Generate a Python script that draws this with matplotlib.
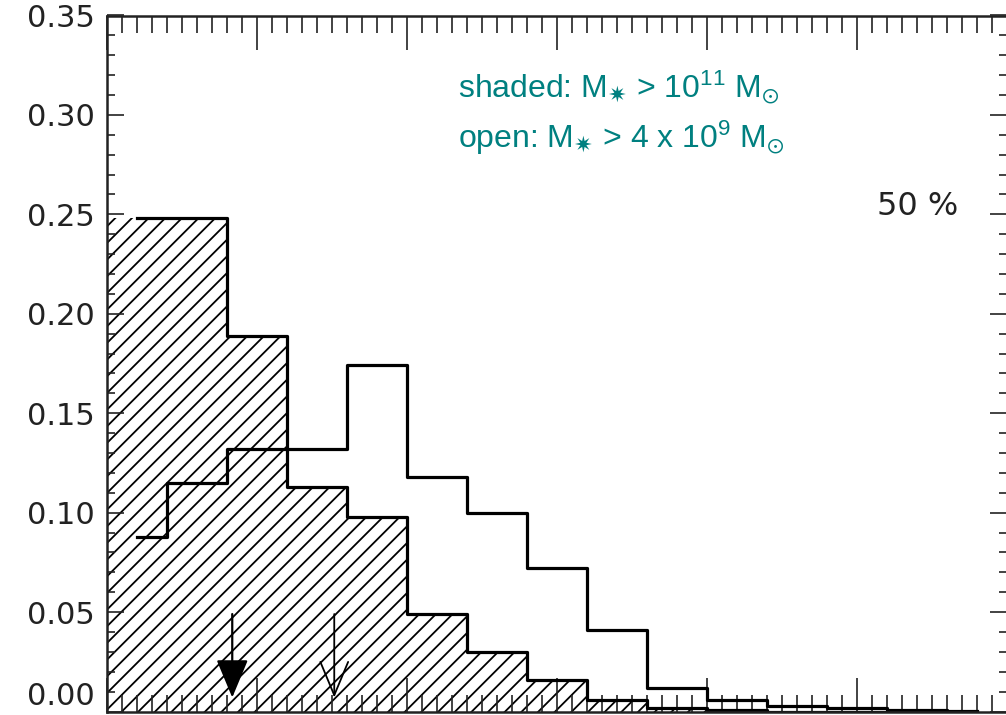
import numpy as np
import matplotlib
matplotlib.use('Agg')
import matplotlib.pyplot as plt
from matplotlib.ticker import MultipleLocator

# 直方图数据（每个bin的中心和比例）
bin_width = 0.4
bin_centers = [0.2, 0.6, 1.0, 1.4, 1.8, 2.2, 2.6, 3.0, 3.4, 3.8, 4.2, 4.6, 5.0, 5.4, 5.8]
open_frac = [0.088, 0.115, 0.132, 0.132, 0.174, 0.118, 0.100, 0.072, 0.041,
             0.012, 0.006, 0.003, 0.002, 0.001, 0.0005]
shaded_frac = [0.248, 0.248, 0.189, 0.113, 0.098, 0.049, 0.030, 0.016, 0.006,
               0.002, 0.001, 0.0, 0.0, 0.0, 0.0]

# 箭头位置
arrow_shaded_x = 0.835
arrow_open_x = 1.515

teal = '#008080'

plt.rcParams['hatch.linewidth'] = 1.3
plt.rcParams['hatch.color'] = 'black'
plt.rcParams['mathtext.fontset'] = 'custom'
plt.rcParams['mathtext.rm'] = 'Liberation Sans'
plt.rcParams['mathtext.it'] = 'Liberation Sans:italic'
plt.rcParams['mathtext.bf'] = 'Liberation Sans:bold'
plt.rcParams['mathtext.sf'] = 'DejaVu Sans'
plt.rcParams['mathtext.fallback'] = 'stixsans'

fig = plt.figure(figsize=(10.06, 7.15), dpi=100)
ax = fig.add_axes([107 / 1006, 3.5 / 715, 900 / 1006, 696 / 715])

x = np.array(bin_centers)
edges = np.r_[x - bin_width / 2, x[-1] + bin_width / 2]

# 阴影部分
ax.fill_between(edges, np.r_[shaded_frac, shaded_frac[-1]], step='post',
                facecolor='none', edgecolor='black', hatch='//', linewidth=0)
ax.step(x, shaded_frac, where='mid', color='black', lw=2.3)
ax.step(x, open_frac, where='mid', color='black', lw=2.3)

# 箭头
ax.annotate('', xy=(arrow_shaded_x, 0.007), xytext=(arrow_shaded_x, 0.049),
            arrowprops=dict(arrowstyle='-|>,head_length=2.4,head_width=1.0',
                            mutation_scale=10, lw=1.6, color='black',
                            shrinkA=0, shrinkB=0))
ax.annotate('', xy=(arrow_open_x, 0.007), xytext=(arrow_open_x, 0.049),
            arrowprops=dict(arrowstyle='->,head_length=2.4,head_width=1.0',
                            mutation_scale=10, lw=1.3, color='black',
                            shrinkA=0, shrinkB=0))

ax.set_xlim(0, 6)
ax.set_ylim(0, 0.35)

ax.xaxis.set_major_locator(MultipleLocator(1))
ax.xaxis.set_minor_locator(MultipleLocator(0.1))
ax.yaxis.set_major_locator(MultipleLocator(0.05))
ax.yaxis.set_minor_locator(MultipleLocator(0.01))
# 0.00 标签单独放高一点
ax.yaxis.set_major_formatter(plt.FuncFormatter(lambda v, p: '' if abs(v) < 1e-9 else '%.2f' % v))
ax.annotate('0.00', xy=(0, 0), xycoords='axes fraction', xytext=(-9, 11),
            textcoords='offset points', ha='right', va='center', fontsize=22,
            color='#222222')

ax.tick_params(axis='both', which='both', direction='in', top=True, right=True,
               labelbottom=False, width=1.2, color='#222222')
ax.tick_params(axis='x', which='major', length=24.5)
ax.tick_params(axis='x', which='minor', length=12.2)
ax.tick_params(axis='y', which='major', length=12.2, labelsize=22, pad=9,
               labelcolor='#222222')
ax.tick_params(axis='y', which='minor', length=5.8)
for s in ax.spines.values():
    s.set_linewidth(1.8)
    s.set_color('#222222')

ax.text(2.34, 0.309, r'shaded: M$_{\mathsf{✷}}$ > 10$^{11}$ M$_{\odot}$',
        color=teal, fontsize=23, family='Liberation Sans', va='baseline')
ax.text(2.34, 0.2834, r'open: M$_{\mathsf{✷}}$ > 4 x 10$^{9}$ M$_{\odot}$',
        color=teal, fontsize=23, family='Liberation Sans', va='baseline')
ax.text(5.133, 0.2497, '50 %', fontsize=23, color='#222222', va='baseline')

plt.savefig('out.png', dpi=100)
